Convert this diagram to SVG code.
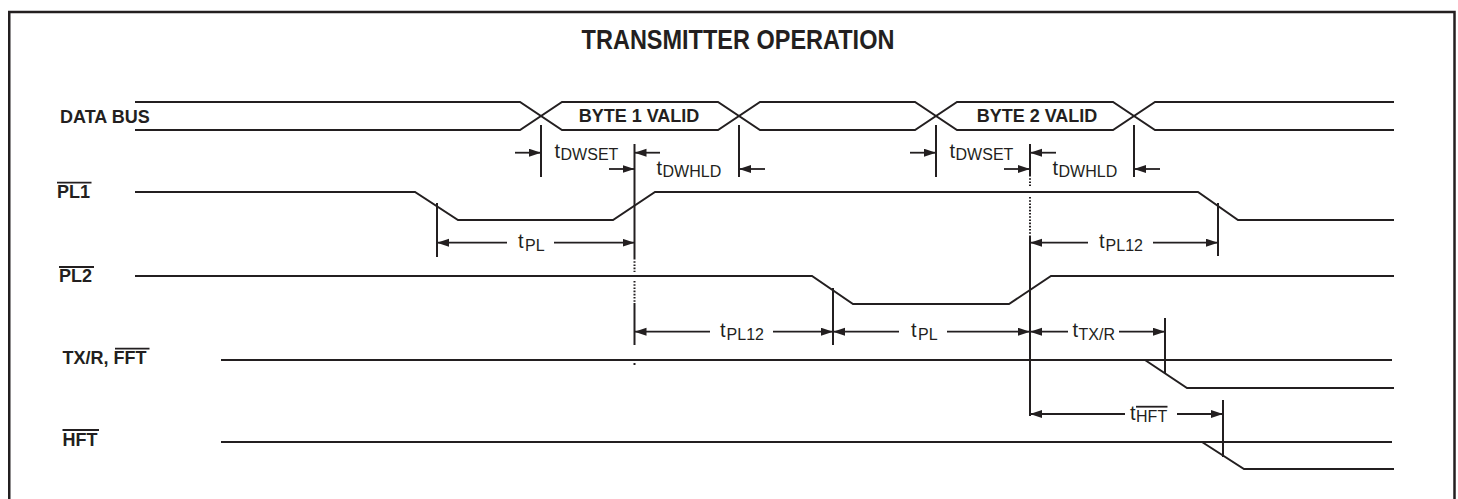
<svg xmlns="http://www.w3.org/2000/svg" width="1458" height="499" viewBox="0 0 1458 499">
<style>
.sig{fill:none;stroke:#231f20;stroke-width:2}
.ext{fill:none;stroke:#231f20;stroke-width:2}
.dot{fill:none;stroke:#231f20;stroke-width:2;stroke-dasharray:1.6 1.6}
.arr{fill:none;stroke:#231f20;stroke-width:1.8;marker-end:url(#ah)}
.ovl{stroke:#231f20;stroke-width:1.8}
.lbl{font-family:"Liberation Sans",Arial,sans-serif;font-weight:bold;font-size:18px;fill:#231f20}
.ttl{font-family:"Liberation Sans",Arial,sans-serif;font-weight:bold;font-size:23.5px;fill:#231f20}
.tm{font-family:"Liberation Sans",Arial,sans-serif;font-size:20px;fill:#231f20}
.sub{font-size:16px}
</style>
<defs>
<marker id="ah" markerUnits="userSpaceOnUse" markerWidth="13" markerHeight="9" refX="12" refY="4" orient="auto">
<path d="M0,0 L12,4 L0,8 z" fill="#231f20"/>
</marker>
</defs>
<rect x="0" y="0" width="1458" height="499" fill="#ffffff"/>
<rect x="9.25" y="12" width="1445.25" height="500" fill="none" stroke="#231f20" stroke-width="2.5"/>

<g id="title">
<text class="ttl" x="0" y="0" text-anchor="middle" transform="translate(738,49.3) scale(1,1.15)">TRANSMITTER OPERATION</text>
</g>

<g id="databus">
<text class="lbl" x="60" y="123">DATA BUS</text>
<path class="sig" d="M135,102 H520 L562,130 H718 L760,102 H915 L957,130 H1113 L1155,102 H1394"/>
<path class="sig" d="M135,130 H520 L562,102 H718 L760,130 H915 L957,102 H1113 L1155,130 H1394"/>
<text class="lbl" x="639" y="122" text-anchor="middle">BYTE 1 VALID</text>
<text class="lbl" x="1037" y="122" text-anchor="middle">BYTE 2 VALID</text>
</g>

<g id="pl1">
<text class="lbl" x="57" y="198">PL1</text>
<line class="ovl" x1="57" y1="182.7" x2="91.5" y2="182.7"/>
<path class="sig" d="M135,192 H415 L458,220 H613 L655,192 H1198 L1238,220 H1394"/>
</g>

<g id="pl2">
<text class="lbl" x="59" y="282">PL2</text>
<line class="ovl" x1="59" y1="267" x2="94" y2="267"/>
<path class="sig" d="M135,276 H812 L853,304 H1009 L1051,276 H1394"/>
</g>

<g id="txr">
<text class="lbl" x="62.5" y="364">TX/R, FFT</text>
<line class="ovl" x1="115" y1="348.7" x2="149.5" y2="348.7"/>
<path class="sig" d="M221,360 H1392"/>
<path class="sig" d="M1145,360 L1187,388 H1394"/>
</g>

<g id="hft">
<text class="lbl" x="62.5" y="446">HFT</text>
<line class="ovl" x1="62.5" y1="430" x2="99" y2="430"/>
<path class="sig" d="M221,442 H1392"/>
<path class="sig" d="M1202,442 L1244,469 H1394"/>
</g>

<g id="connectors">
<line class="ext" x1="541" y1="125" x2="541" y2="177"/>
<line class="ext" x1="739" y1="125" x2="739" y2="177"/>
<line class="ext" x1="936" y1="125" x2="936" y2="177"/>
<line class="ext" x1="1134" y1="125" x2="1134" y2="177"/>
<line class="ext" x1="634.5" y1="144" x2="634.5" y2="258"/>
<line class="dot" x1="634.5" y1="258" x2="634.5" y2="272"/>
<line class="dot" x1="634.5" y1="281" x2="634.5" y2="303"/>
<line class="ext" x1="634.5" y1="303" x2="634.5" y2="345"/>
<line class="ext" x1="634.5" y1="363" x2="634.5" y2="365"/>
<line class="ext" x1="1030" y1="144" x2="1030" y2="175"/>
<line class="dot" x1="1030" y1="175" x2="1030" y2="186"/>
<line class="dot" x1="1030" y1="197" x2="1030" y2="237"/>
<line class="ext" x1="1030" y1="237" x2="1030" y2="416"/>
<line class="ext" x1="437" y1="203" x2="437" y2="257"/>
<line class="ext" x1="1218" y1="203" x2="1218" y2="256"/>
<line class="ext" x1="833" y1="288" x2="833" y2="345"/>
<line class="ext" x1="1165" y1="318" x2="1165" y2="374"/>
<line class="ext" x1="1223" y1="400" x2="1223" y2="457"/>

<line class="arr" x1="515" y1="152.7" x2="541" y2="152.7"/>
<line class="arr" x1="660" y1="152.7" x2="634.5" y2="152.7"/>
<line class="arr" x1="609" y1="169" x2="634.5" y2="169"/>
<line class="arr" x1="765" y1="169" x2="739" y2="169"/>
<line class="arr" x1="910" y1="152.7" x2="936" y2="152.7"/>
<line class="arr" x1="1056" y1="152.7" x2="1030" y2="152.7"/>
<line class="arr" x1="1004" y1="169" x2="1030" y2="169"/>
<line class="arr" x1="1160" y1="169" x2="1134" y2="169"/>
<line class="arr" x1="507" y1="242.7" x2="437" y2="242.7"/>
<line class="arr" x1="554" y1="242.7" x2="634.5" y2="242.7"/>
<line class="arr" x1="1088" y1="242.7" x2="1030" y2="242.7"/>
<line class="arr" x1="1153" y1="242.7" x2="1218" y2="242.7"/>
<line class="arr" x1="710" y1="331.7" x2="634.5" y2="331.7"/>
<line class="arr" x1="773" y1="331.7" x2="833" y2="331.7"/>
<line class="arr" x1="899" y1="331.7" x2="833" y2="331.7"/>
<line class="arr" x1="947" y1="331.7" x2="1030" y2="331.7"/>
<line class="arr" x1="1068" y1="331.7" x2="1030" y2="331.7"/>
<line class="arr" x1="1119" y1="331.7" x2="1165" y2="331.7"/>
<line class="arr" x1="1125" y1="414" x2="1030" y2="414"/>
<line class="arr" x1="1177" y1="414" x2="1223" y2="414"/>

<text class="tm" x="554.5" y="158.3">t<tspan class="sub" dx="0.5" dy="1.5">DWSET</tspan></text>
<text class="tm" x="656.5" y="175">t<tspan class="sub" dx="0.5" dy="2">DWHLD</tspan></text>
<text class="tm" x="949.5" y="158.3">t<tspan class="sub" dx="0.5" dy="1.5">DWSET</tspan></text>
<text class="tm" x="1052.5" y="175">t<tspan class="sub" dx="0.5" dy="2">DWHLD</tspan></text>
<text class="tm" x="518" y="248.3">t<tspan class="sub" dx="1.5" dy="2.4">PL</tspan></text>
<text class="tm" x="1099" y="248.3">t<tspan class="sub" dx="1" dy="2.4">PL12</tspan></text>
<text class="tm" x="720" y="337.3">t<tspan class="sub" dx="1" dy="2.4">PL12</tspan></text>
<text class="tm" x="911" y="337.3">t<tspan class="sub" dx="1.5" dy="2.4">PL</tspan></text>
<text class="tm" x="1072.5" y="337.3">t<tspan class="sub" dx="0.5" dy="2.4">TX/R</tspan></text>
<text class="tm" x="1130" y="419.5">t<tspan class="sub" dx="0.5" dy="2.4">HFT</tspan></text>
<line class="ovl" x1="1136" y1="406.7" x2="1167.5" y2="406.7" stroke-width="1.5"/>
</g>
</svg>
